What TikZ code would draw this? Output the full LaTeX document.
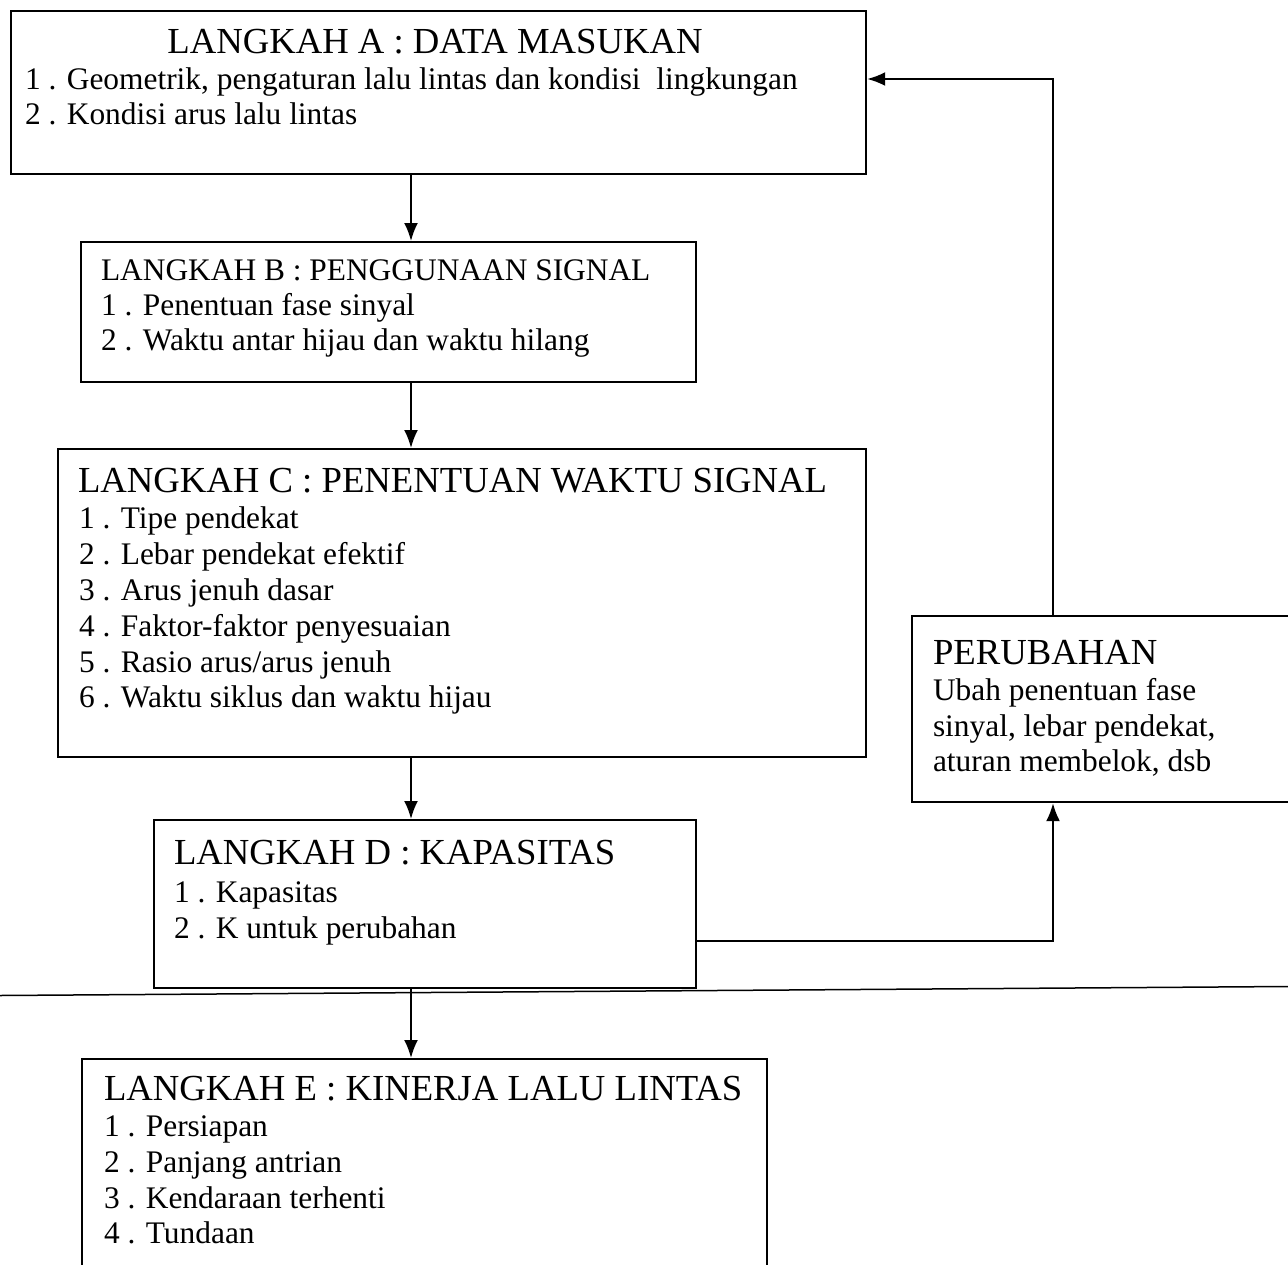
\documentclass[tikz,border=0pt]{standalone}
\usepackage{fontspec}
\setmainfont{Liberation Serif}
\usetikzlibrary{arrows.meta}

\begin{document}
\begin{tikzpicture}[x=1pt,y=-1pt,>={Latex[length=18pt,width=14pt]},line width=2pt,
  kotak/.style={draw,line width=2.2pt,inner sep=0pt,anchor=north west},
  judul/.style={anchor=base west,inner sep=0pt,font=\fontsize{36.7}{40}\selectfont},
  butir/.style={anchor=base west,inner sep=0pt,font=\fontsize{31.4}{36}\selectfont}]

\clip (0,0) rectangle (1288,1264);

\coordinate (jalur) at (411,0);
\coordinate (balik) at (1053,79);
\coordinate (kap) at (1053,941);

\node[kotak,minimum width=855pt,minimum height=163pt] (A) at (10,10) {};
\node[judul,anchor=base] (At) at (435,53) {LANGKAH A : DATA MASUKAN};
\node[butir] (A1) at (24,89) {1 . Geometrik, pengaturan lalu lintas dan kondisi\ \ lingkungan};
\node[butir] (A2) at (24,124) {2 . Kondisi arus lalu lintas};

\node[kotak,minimum width=615pt,minimum height=140pt] (B) at (80,241) {};
\node[butir] (Bt) at (100,280) {LANGKAH B : PENGGUNAAN SIGNAL};
\node[butir] (B1) at (100,315) {1 . Penentuan fase sinyal};
\node[butir] (B2) at (100,350) {2 . Waktu antar hijau dan waktu hilang};

\node[kotak,minimum width=808pt,minimum height=308pt] (C) at (57,448) {};
\node[judul] (Ct) at (77,492) {LANGKAH C : PENENTUAN WAKTU SIGNAL};
\node[butir] (C1) at (78,528) {1 . Tipe pendekat};
\node[butir] (C2) at (78,564) {2 . Lebar pendekat efektif};
\node[butir] (C3) at (78,600) {3 . Arus jenuh dasar};
\node[butir] (C4) at (78,636) {4 . Faktor-faktor penyesuaian};
\node[butir] (C5) at (78,672) {5 . Rasio arus/arus jenuh};
\node[butir] (C6) at (78,707) {6 . Waktu siklus dan waktu hijau};

\node[kotak,minimum width=542pt,minimum height=168pt] (D) at (153,819) {};
\node[judul] (Dt) at (173,864) {LANGKAH D : KAPASITAS};
\node[butir] (D1) at (173,902) {1 . Kapasitas};
\node[butir] (D2) at (173,938) {2 . K untuk perubahan};

\node[kotak,minimum width=685pt,minimum height=300pt] (E) at (81,1058) {};
\node[judul] (Et) at (103,1100) {LANGKAH E : KINERJA LALU LINTAS};
\node[butir] (E1) at (103,1136) {1 . Persiapan};
\node[butir] (E2) at (103,1172) {2 . Panjang antrian};
\node[butir] (E3) at (103,1208) {3 . Kendaraan terhenti};
\node[butir] (E4) at (103,1243) {4 . Tundaan};

\node[kotak,minimum width=420pt,minimum height=186pt] (ubah) at (911,615) {};
\node[judul] (ubaht) at (932,664) {PERUBAHAN};
\node[butir] (ubah1) at (932,700) {Ubah penentuan fase};
\node[butir] (ubah2) at (932,736) {sinyal, lebar pendekat,};
\node[butir] (ubah3) at (932,771) {aturan membelok, dsb};

\draw[->] (A.south -| jalur) -- (B.north -| jalur);
\draw[->] (B.south -| jalur) -- (C.north -| jalur);
\draw[->] (C.south -| jalur) -- (D.north -| jalur);
\draw[->] (D.south -| jalur) -- (E.north -| jalur);
\draw[->] (D.east |- kap) -| (ubah.south -| kap);
\draw[->] (ubah.north -| balik) |- (A.east |- balik);

\draw[line width=1.5pt] (0,995.5) -- (1288,986.5);

\end{tikzpicture}
\end{document}
